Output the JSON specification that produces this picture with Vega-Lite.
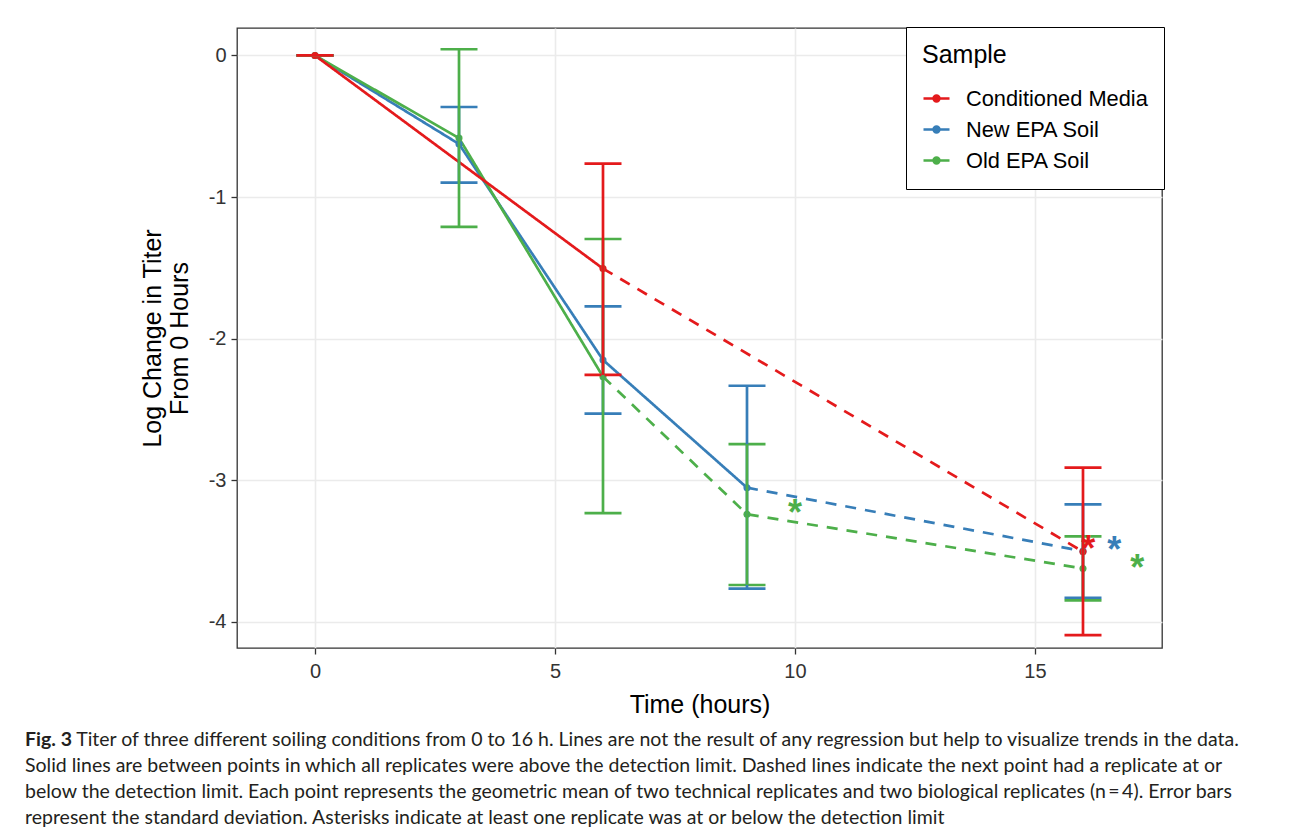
{
  "$schema": "https://vega.github.io/schema/vega-lite/v6.json",
  "width": 925,
  "height": 620,
  "autosize": {"type": "none"},
  "padding": {"left": 237, "top": 28, "right": 128, "bottom": 185},
  "background": "white",
  "datasets": {
    "segs": [
      {"sample": "New EPA Soil", "seg": "new-a", "style": "solid", "time": 0, "value": 0},
      {"sample": "New EPA Soil", "seg": "new-a", "style": "solid", "time": 3, "value": -0.625},
      {"sample": "New EPA Soil", "seg": "new-a", "style": "solid", "time": 6, "value": -2.15},
      {"sample": "New EPA Soil", "seg": "new-a", "style": "solid", "time": 9, "value": -3.052},
      {"sample": "New EPA Soil", "seg": "new-b", "style": "dashed", "time": 9, "value": -3.052},
      {"sample": "New EPA Soil", "seg": "new-b", "style": "dashed", "time": 16, "value": -3.5},
      {"sample": "Old EPA Soil", "seg": "old-a", "style": "solid", "time": 0, "value": 0},
      {"sample": "Old EPA Soil", "seg": "old-a", "style": "solid", "time": 3, "value": -0.583},
      {"sample": "Old EPA Soil", "seg": "old-a", "style": "solid", "time": 6, "value": -2.268},
      {"sample": "Old EPA Soil", "seg": "old-b", "style": "dashed", "time": 6, "value": -2.268},
      {"sample": "Old EPA Soil", "seg": "old-b", "style": "dashed", "time": 9, "value": -3.24},
      {"sample": "Old EPA Soil", "seg": "old-b", "style": "dashed", "time": 16, "value": -3.622},
      {"sample": "Conditioned Media", "seg": "cm-a", "style": "solid", "time": 0, "value": 0},
      {"sample": "Conditioned Media", "seg": "cm-a", "style": "solid", "time": 6, "value": -1.505},
      {"sample": "Conditioned Media", "seg": "cm-b", "style": "dashed", "time": 6, "value": -1.505},
      {"sample": "Conditioned Media", "seg": "cm-b", "style": "dashed", "time": 16, "value": -3.504}
    ],
    "pts": [
      {"sample": "New EPA Soil", "time": 0, "value": 0, "lo": 0, "hi": 0},
      {"sample": "New EPA Soil", "time": 3, "value": -0.625, "lo": -0.898, "hi": -0.364},
      {"sample": "New EPA Soil", "time": 6, "value": -2.15, "lo": -2.529, "hi": -1.771},
      {"sample": "New EPA Soil", "time": 9, "value": -3.052, "lo": -3.765, "hi": -2.332},
      {"sample": "New EPA Soil", "time": 16, "value": -3.5, "lo": -3.83, "hi": -3.17},
      {"sample": "Old EPA Soil", "time": 0, "value": 0, "lo": 0, "hi": 0},
      {"sample": "Old EPA Soil", "time": 3, "value": -0.583, "lo": -1.211, "hi": 0.044},
      {"sample": "Old EPA Soil", "time": 6, "value": -2.268, "lo": -3.231, "hi": -1.296},
      {"sample": "Old EPA Soil", "time": 9, "value": -3.24, "lo": -3.739, "hi": -2.744},
      {"sample": "Old EPA Soil", "time": 16, "value": -3.622, "lo": -3.848, "hi": -3.396},
      {"sample": "Conditioned Media", "time": 0, "value": 0, "lo": 0, "hi": 0},
      {"sample": "Conditioned Media", "time": 6, "value": -1.505, "lo": -2.256, "hi": -0.764},
      {"sample": "Conditioned Media", "time": 16, "value": -3.504, "lo": -4.093, "hi": -2.911}
    ],
    "stars": [
      {"sample": "Old EPA Soil", "time": 10, "value": -3.19},
      {"sample": "Conditioned Media", "time": 16.11, "value": -3.445},
      {"sample": "New EPA Soil", "time": 16.65, "value": -3.45},
      {"sample": "Old EPA Soil", "time": 17.13, "value": -3.575}
    ]
  },
  "title": {
    "text": "Fig. 3",
    "subtitle": [
      "\u200b\u2003\u2003\u2002\u2002\u2009Titer of three different soiling conditions from 0 to 16 h. Lines are not the result of any regression but help to visualize trends in the data.",
      "Solid lines are between points in which all replicates were above the detection limit. Dashed lines indicate the next point had a replicate at or",
      "below the detection limit. Each point represents the geometric mean of two technical replicates and two biological replicates (n\u2009=\u20094). Error bars",
      "represent the standard deviation. Asterisks indicate at least one replicate was at or below the detection limit"
    ],
    "orient": "bottom",
    "anchor": "start",
    "frame": "group",
    "dx": -212,
    "offset": 14,
    "font": "Lato",
    "fontSize": 19.5,
    "fontWeight": "bold",
    "color": "#231F20",
    "subtitleFont": "Lato",
    "subtitleFontSize": 19.5,
    "subtitleColor": "#231F20",
    "subtitleLineHeight": 26,
    "subtitlePadding": -19.5
  },
  "encoding": {
    "x": {
      "field": "time", "type": "quantitative",
      "scale": {"domain": [-1.625, 17.646], "nice": false, "zero": false},
      "axis": {"values": [0, 5, 10, 15], "titlePadding": 11, "labelPadding": 7},
      "title": "Time (hours)"
    },
    "color": {
      "field": "sample", "type": "nominal",
      "scale": {"domain": ["Conditioned Media", "New EPA Soil", "Old EPA Soil"], "range": ["#E41A1C", "#377EB8", "#4DAF4A"]},
      "legend": {
        "title": "Sample",
        "orient": "none",
        "legendX": 669,
        "legendY": -1,
        "strokeColor": "#000000",
        "fillColor": "#ffffff",
        "padding": 16,
        "titleFont": "Liberation Sans",
        "titleFontSize": 25,
        "titleFontWeight": "normal",
        "titleColor": "#000000",
        "titlePadding": 16,
        "labelFont": "Liberation Sans",
        "labelFontSize": 21.8,
        "labelColor": "#000000",
        "labelOffset": 15,
        "labelLimit": 400,
        "symbolType": "M-1,0H1M-0.22,0A0.22,0.22,0,1,1,0.22,0A0.22,0.22,0,1,1,-0.22,0M-0.08,0A0.08,0.08,0,1,1,0.08,0A0.08,0.08,0,1,1,-0.08,0",
        "symbolSize": 676,
        "symbolStrokeWidth": 2.7,
        "rowPadding": 4
      }
    }
  },
  "layer": [
    {
      "data": {"name": "segs"},
      "mark": {"type": "line", "strokeWidth": 2.7},
      "encoding": {
        "y": {"field": "value", "type": "quantitative", "scale": {"domain": [-4.184, 0.194], "nice": false, "zero": false}, "axis": {"values": [-4, -3, -2, -1, 0], "titlePadding": 16, "labelPadding": 5, "labelExpr": "datum.value == 0 ? '0' : '-' + abs(datum.value)"}, "title": ["Log Change in Titer", "From 0 Hours"]},
        "detail": {"field": "seg"},
        "strokeDash": {"field": "style", "type": "nominal", "scale": {"domain": ["solid", "dashed"], "range": [[1, 0], [11, 9]]}, "legend": null}
      }
    },
    {
      "data": {"name": "pts"},
      "mark": {"type": "point", "filled": true, "size": 50, "opacity": 1},
      "encoding": {
        "y": {"field": "value", "type": "quantitative", "scale": {"domain": [-4.184, 0.194], "nice": false, "zero": false}, "title": ["Log Change in Titer", "From 0 Hours"]}
      }
    },
    {
      "data": {"name": "pts"},
      "mark": {"type": "errorbar", "thickness": 2.7, "opacity": 1, "rule": {"opacity": 1}, "ticks": {"size": 37, "thickness": 2.7, "opacity": 1}},
      "encoding": {
        "y": {"field": "lo", "type": "quantitative", "scale": {"domain": [-4.184, 0.194], "nice": false, "zero": false}, "title": ["Log Change in Titer", "From 0 Hours"]},
        "y2": {"field": "hi"}
      }
    },
    {
      "data": {"name": "stars"},
      "mark": {"type": "text", "text": "*", "font": "Liberation Sans", "fontSize": 36, "fontWeight": "bold", "baseline": "alphabetic", "align": "center", "dy": 18},
      "encoding": {
        "y": {"field": "value", "type": "quantitative", "scale": {"domain": [-4.184, 0.194], "nice": false, "zero": false}, "title": ["Log Change in Titer", "From 0 Hours"]}
      }
    }
  ],
  "config": {
    "view": {"stroke": "#333333", "strokeWidth": 1.3},
    "axis": {
      "domain": false,
      "grid": true,
      "gridColor": "#EBEBEB",
      "gridWidth": 1.6,
      "tickColor": "#333333",
      "tickSize": 6,
      "tickWidth": 1.3,
      "labelFont": "Liberation Sans",
      "labelFontSize": 20,
      "labelColor": "#333333",
      "titleFont": "Liberation Sans",
      "titleFontSize": 25,
      "titleFontWeight": "normal",
      "titleColor": "#000000",
      "titleLineHeight": 27
    }
  }
}
